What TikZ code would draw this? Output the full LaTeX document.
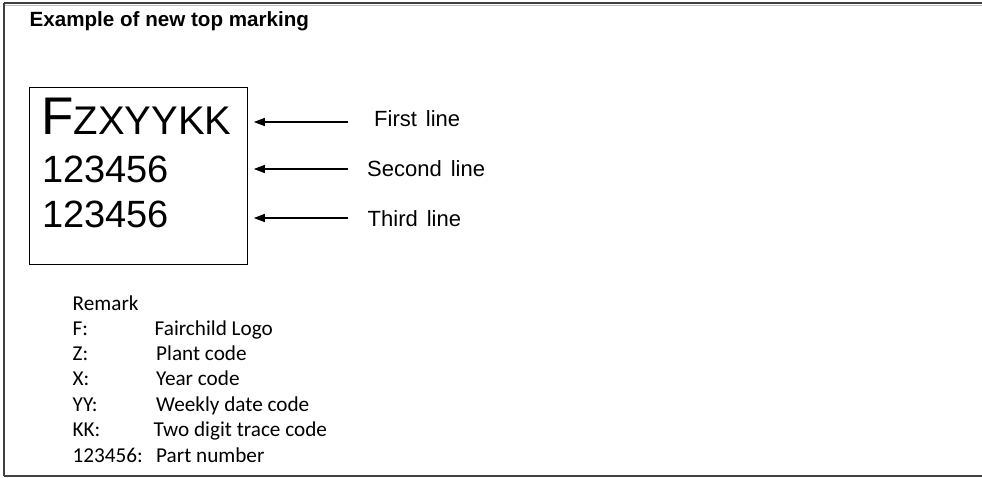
\documentclass[tikz,border=0pt]{standalone}
\usepackage{fontspec}
\setmainfont{Liberation Sans}
\newfontfamily\remfont{Carlito}
\newcommand\widespace{\spaceskip=9pt\relax}
\usetikzlibrary{arrows.meta}
\begin{document}
\begin{tikzpicture}[x=1pt,y=-1pt,
  txt/.style={inner sep=0pt,anchor=base west},
  lbl/.style={txt,font={\fontsize{22}{22}\selectfont\widespace}},
  rem/.style={txt,font=\remfont\fontsize{21.2}{21.2}\selectfont},
  arr/.style={-{Triangle[length=11pt,width=8pt]},line width=1.2pt,shorten >=6pt},
  frame/.style={line width=1.6pt,draw=black!75}]
\useasboundingbox (0,0) rectangle (982,477);
% outer frame
\draw[frame] (4,3) -- (982,3);
\draw[draw=black!25,line width=0.8pt] (5,5.5) -- (982,5.5);
\draw[frame] (4,3) -- (4,476);
\draw[frame] (4,476) -- (982,476);
% title
\node[txt,font=\bfseries\fontsize{20.6}{20.6}\selectfont] (title) at (29.5,26.5) {Example of new top marking};
% marking box
\node[draw=black,line width=0.8pt,minimum width=218pt,minimum height=177pt,inner sep=0pt,anchor=north west] (box) at (29,87) {};
\node[txt] (l1) at (41,134.5) {{\fontsize{53}{53}\selectfont F}{\fontsize{40}{40}\selectfont ZXYYKK}};
\node[txt,font=\fontsize{38}{38}\selectfont] (l2) at (42,182) {123456};
\node[txt,font=\fontsize{38}{38}\selectfont] (l3) at (42,227) {123456};
% labels
\node[lbl] (first) at (374,126.5) {First line};
\node[lbl] (second) at (367,176.5) {Second line};
\node[lbl] (third) at (367.5,226.5) {Third line};
\coordinate (t1) at (348,122);
\coordinate (t2) at (348,169);
\coordinate (t3) at (348,218);
\draw[arr] (t1) -- (box.east |- t1);
\draw[arr] (t2) -- (box.east |- t2);
\draw[arr] (t3) -- (box.east |- t3);
% remarks
\node[rem] (r0) at (72.5,310) {Remark};
\node[rem] (k1) at (72.5,335) {F:};
\node[rem] (v1) at (154.5,335) {Fairchild Logo};
\node[rem] (k2) at (72.5,360) {Z:};
\node[rem] (v2) at (156,360) {Plant code};
\node[rem] (k3) at (72.5,385.3) {X:};
\node[rem] (v3) at (156,385.3) {Year code};
\node[rem] (k4) at (72.5,411) {YY:};
\node[rem] (v4) at (156,411) {Weekly date code};
\node[rem] (k5) at (72.5,436.7) {KK:};
\node[rem] (v5) at (153.5,436.7) {Two digit trace code};
\node[rem] (k6) at (72.5,462) {123456:};
\node[rem] (v6) at (156,462) {Part number};
\end{tikzpicture}
\end{document}
